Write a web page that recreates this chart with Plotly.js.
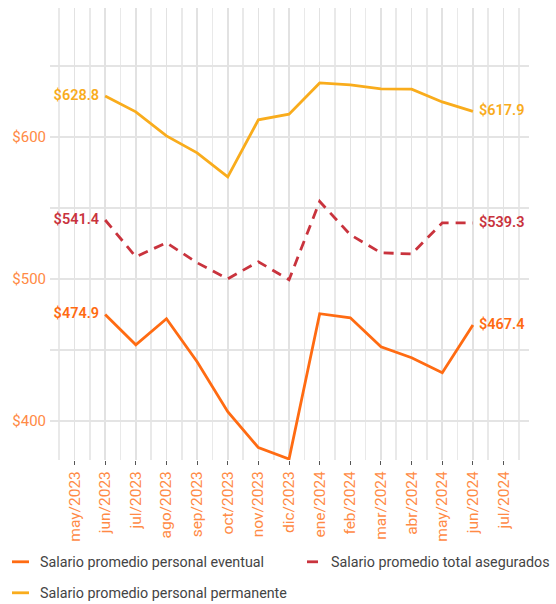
<!DOCTYPE html>
<html>
<head>
<meta charset="utf-8">
<script src="https://cdn.plot.ly/plotly-3.0.1.min.js"></script>
<style>
html,body{margin:0;padding:0;background:#fff;}
.legendlines path { d: path("M12,0h17"); }
.legend2 .legendlines path { d: path("M16,0h11"); stroke-dasharray: none !important; }
.legendsymbols { display: none; }
</style>
</head>
<body>
<div id="chart" style="width:556px;height:604px;"></div>
<script>
// Axis categories (tick labels)
const monthLabels = ['may/2023','jun/2023','jul/2023','ago/2023','sep/2023','oct/2023','nov/2023','dic/2023','ene/2024','feb/2024','mar/2024','abr/2024','may/2024','jun/2024','jul/2024'];
// Months with data
const dataMonths = ['jun/2023','jul/2023','ago/2023','sep/2023','oct/2023','nov/2023','dic/2023','ene/2024','feb/2024','mar/2024','abr/2024','may/2024','jun/2024'];
// Series values
const eventual   = [474.9, 453.5, 471.8, 441.5, 406.3, 381.0, 373.0, 475.4, 472.5, 452.0, 444.4, 433.8, 467.4];
const asegurados = [541.4, 515.5, 525.4, 511.3, 500.0, 512.0, 499.3, 554.5, 531.0, 518.3, 517.5, 539.4, 539.3];
const permanente = [628.8, 617.6, 600.7, 588.7, 571.8, 612.0, 616.0, 638.0, 636.6, 633.8, 633.6, 624.6, 617.9];
const seriesNames = ['Salario promedio personal eventual','Salario promedio total asegurados','Salario promedio personal permanente'];
const yTickVals = [400, 500, 600];

const xIdx = dataMonths.map(m => monthLabels.indexOf(m));
const last = dataMonths.length - 1;
function endLabels(vals){ return vals.map((v,i)=> (i===0||i===last) ? '$'+v.toFixed(1) : ''); }
const textPos = dataMonths.map((m,i)=> i===0 ? 'middle left' : 'middle right');

const C_EV = '#FF6B12', C_AS = '#C9333D', C_PE = '#F9AC1C';

function trace(vals, name, color, dash, legend){
  return {
    x: xIdx, y: vals, name: name, type: 'scatter', mode: 'lines+markers+text',
    marker: {size: 8, opacity: 0, color: color},
    text: endLabels(vals), textposition: textPos,
    textfont: {family: 'Roboto', size: 14.5, color: color, weight: 600},
    line: {color: color, width: 2.8, dash: dash},
    legend: legend, cliponaxis: false, hoverinfo: 'skip'
  };
}

const data = [
  trace(eventual, seriesNames[0], C_EV, 'solid', 'legend'),
  trace(asegurados, seriesNames[1], C_AS, '10px,7px', 'legend2'),
  trace(permanente, seriesNames[2], C_PE, 'solid', 'legend3')
];

const legendFont = {family: 'Roboto', size: 14.3, color: '#444'};
function leg(xpx, ytop){
  return {orientation: 'h', xref: 'container', yref: 'container',
    x: xpx/556, xanchor: 'left', y: 1 - ytop/604, yanchor: 'top',
    font: legendFont, itemwidth: 30, bgcolor: 'rgba(0,0,0,0)'};
}
const layout = {
  width: 556, height: 604,
  margin: {l: 50, r: 27, t: 8, b: 144},
  paper_bgcolor: '#fff', plot_bgcolor: '#fff',
  showlegend: true,
  font: {family: 'Roboto'},
  xaxis: {
    type: 'linear', range: [-0.8, 14.83], automargin: false,
    tickvals: monthLabels.map((m,i)=>i), ticktext: monthLabels,
    tickangle: -90, tickfont: {family: 'Roboto', size: 15.5, color: '#FF8A45'},
    ticks: 'outside', ticklen: 4, tickcolor: '#555', tickwidth: 1,
    showgrid: true, gridcolor: '#e2e2e2', gridwidth: 1.6,
    minor: {tickvals: monthLabels.map((m,i)=>i-0.5).concat([monthLabels.length-0.5]), showgrid: true, gridcolor: '#e9e9e9', gridwidth: 1.6, ticks: ''},
    zeroline: false, showline: false, fixedrange: true
  },
  yaxis: {
    range: [372.3, 690.8], automargin: false,
    tickvals: yTickVals, ticktext: yTickVals.map(v => '$' + v),
    tickfont: {family: 'Roboto', size: 15, color: '#FF8A45'},
    ticklabelstandoff: 3,
    showgrid: true, gridcolor: '#e4e4e4', gridwidth: 2,
    minor: {dtick: 50, tick0: 0, showgrid: true, gridcolor: '#e4e4e4', gridwidth: 2},
    zeroline: false, showline: false, ticks: '', fixedrange: true
  },
  legend: leg(-16, 546),
  legend2: leg(291, 546),
  legend3: leg(-16, 577)
};

Plotly.newPlot('chart', data, layout, {displayModeBar: false, staticPlot: true});
</script>
</body>
</html>
